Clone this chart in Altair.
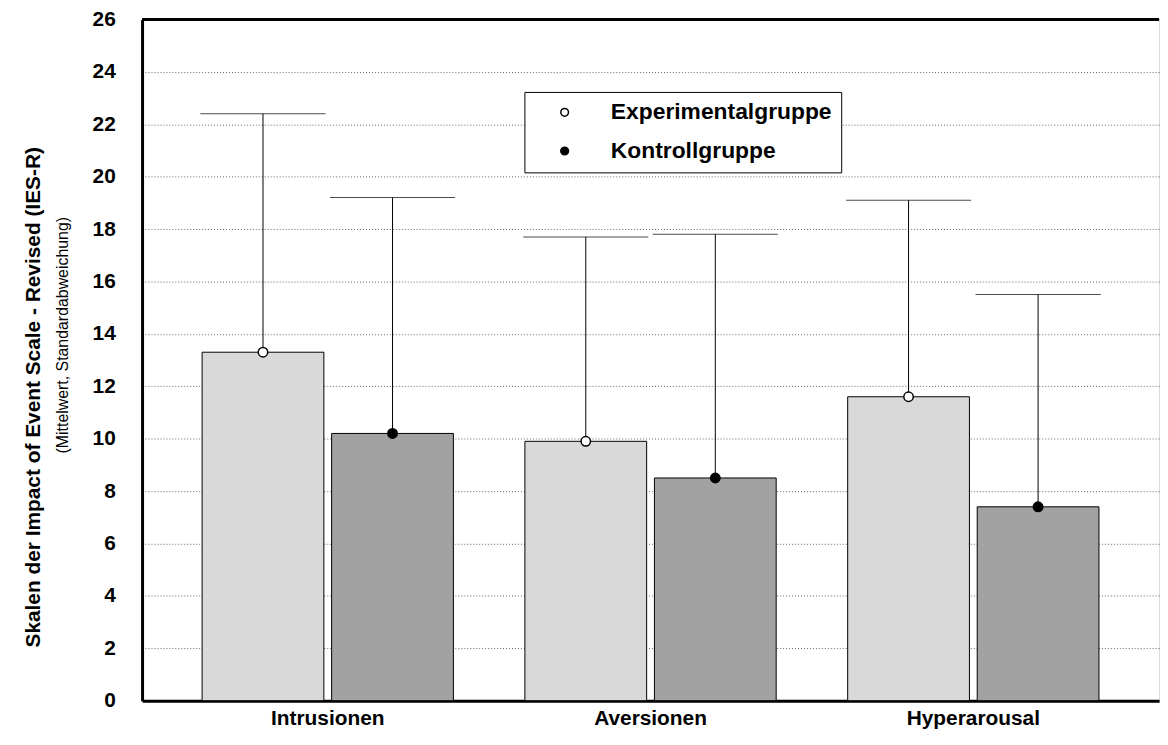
import altair as alt
import pandas as pd

categories = ["Intrusionen", "Aversionen", "Hyperarousal"]
groups = ["Experimentalgruppe", "Kontrollgruppe"]
means_exp = [13.3, 9.9, 11.6]
means_ctl = [10.2, 8.5, 7.4]
upper_exp = [22.4, 17.7, 19.1]
upper_ctl = [19.2, 17.8, 15.5]
y_ticks = list(range(0, 27, 2))
y_title = "Skalen der Impact of Event Scale - Revised (IES-R)"
y_subtitle = "(Mittelwert, Standardabweichung)"
bar_fills = {"Experimentalgruppe": "#d9d9d9", "Kontrollgruppe": "#a2a2a2"}

rows = []
for i, c in enumerate(categories):
    rows.append({"Skala": c, "Gruppe": groups[0], "Mittelwert": means_exp[i],
                 "Oben": upper_exp[i], "barfill": bar_fills[groups[0]]})
    rows.append({"Skala": c, "Gruppe": groups[1], "Mittelwert": means_ctl[i],
                 "Oben": upper_ctl[i], "barfill": bar_fills[groups[1]]})
df = pd.DataFrame(rows)

FONT = "Arial, Liberation Sans, sans-serif"
W, H = 1024, 686

x_scale = alt.Scale(paddingInner=0.2215, paddingOuter=0.186)
x_enc = alt.X("Skala:N", sort=categories, scale=x_scale,
              axis=alt.Axis(title=None, labelAngle=0, labelFont=FONT, labelFontSize=21,
                            labelFontWeight="bold", labelColor="black", labelPadding=7,
                            ticks=False, tickSize=0, domainColor="black", domainWidth=3,
                            grid=False))
xoff = alt.XOffset("Gruppe:N", sort=groups, scale=alt.Scale(paddingInner=0.06, paddingOuter=0))
y_scale = alt.Scale(domain=[0, 26], nice=False)

base = alt.Chart(df)

bars = base.mark_bar(stroke="black", strokeWidth=1).encode(
    x=x_enc,
    xOffset=xoff,
    y=alt.Y("Mittelwert:Q", scale=y_scale,
            axis=alt.Axis(values=y_ticks, title=y_title, titleFont=FONT, titleFontSize=21,
                          titleFontWeight="bold", titleColor="black", titleX=-99, titleY=380,
                          titleAngle=270, titleBaseline="bottom", titleAlign="center",
                          labelFont=FONT, labelFontSize=21, labelFontWeight="bold",
                          labelColor="black", labelPadding=27, ticks=False, tickSize=0,
                          domainColor="black", domainWidth=3, grid=True,
                          gridColor="#666666", gridDash=[1, 2], gridWidth=1)),
    fill=alt.Fill("barfill:N", scale=None),
)

errs = base.mark_rule(color="black", strokeWidth=1).encode(
    x=alt.X("Skala:N", sort=categories, scale=x_scale), xOffset=xoff,
    y=alt.Y("Mittelwert:Q", scale=y_scale), y2="Oben:Q",
)

caps = base.mark_tick(color="black", thickness=1, size=126).encode(
    x=alt.X("Skala:N", sort=categories, scale=x_scale), xOffset=xoff,
    y=alt.Y("Oben:Q", scale=y_scale),
)

points = base.mark_point(shape="circle", filled=True, size=90, stroke="black",
                         strokeWidth=1.5, opacity=1).encode(
    x=alt.X("Skala:N", sort=categories, scale=x_scale), xOffset=xoff,
    y=alt.Y("Mittelwert:Q", scale=y_scale),
    fill=alt.Fill("Gruppe:N", sort=groups,
                  scale=alt.Scale(domain=groups, range=["white", "black"]),
                  legend=alt.Legend(title=None, orient="none", legendX=385, legendY=73,
                                    strokeColor="black", fillColor="white", padding=9,
                                    labelFont=FONT, labelFontSize=23, labelFontWeight="bold",
                                    labelColor="black", labelLimit=400, symbolType="circle",
                                    symbolSize=60, symbolStrokeColor="black",
                                    symbolStrokeWidth=1.5, symbolOffset=20, labelOffset=35,
                                    rowPadding=15)),
)

top_border = alt.Chart(pd.DataFrame({"y": [26]})).mark_rule(color="black", strokeWidth=3).encode(
    y=alt.Y("y:Q", scale=y_scale)
)

subtitle = alt.Chart(pd.DataFrame({"t": [y_subtitle]})).mark_text(
    angle=270, align="center", baseline="middle", font=FONT, fontSize=16,
    color="black"
).encode(x=alt.value(-80), y=alt.value(318), text="t:N")

chart = alt.layer(bars, errs, caps, points, top_border, subtitle).properties(
    width=W, height=H,
    autosize=alt.AutoSizeParams(type="none"),
    padding={"left": 135, "top": 9, "right": 1, "bottom": 30},
).configure_view(stroke="black", strokeWidth=1).configure(background="white")

chart.save("out.html", embed_options={"renderer": "svg", "actions": False})
